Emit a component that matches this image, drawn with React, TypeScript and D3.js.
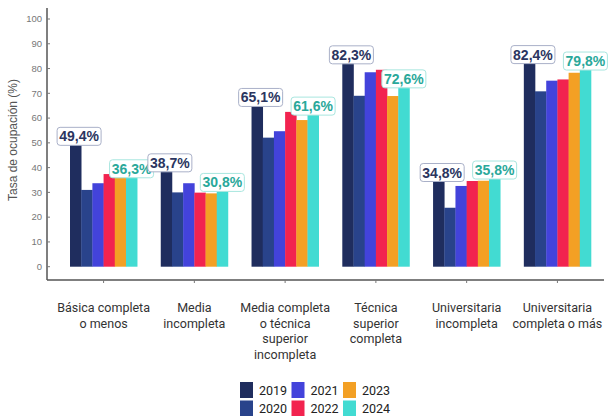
import * as d3 from "d3";

const categories = [
  "Básica completa\no menos",
  "Media\nincompleta",
  "Media completa\no técnica\nsuperior\nincompleta",
  "Técnica\nsuperior\ncompleta",
  "Universitaria\nincompleta",
  "Universitaria\ncompleta o más",
];
const years = ["2019", "2020", "2021", "2022", "2023", "2024"];
const v2019 = [49.4, 38.7, 65.1, 82.3, 34.8, 82.4];
const v2020 = [31.0, 30.0, 52.1, 69.0, 23.8, 70.8];
const v2021 = [33.7, 33.7, 54.7, 78.5, 32.6, 75.1];
const v2022 = [37.4, 29.9, 62.5, 79.5, 34.6, 75.6];
const v2023 = [36.9, 29.6, 59.2, 68.9, 34.7, 78.3];
const v2024 = [36.3, 30.8, 61.6, 72.6, 35.8, 79.8];
const yTicks = [0, 10, 20, 30, 40, 50, 60, 70, 80, 90, 100];
const colors = ["#1f2d5e", "#29438b", "#4343db", "#f2234f", "#f3a024", "#42dbd2"];

const series = [v2019, v2020, v2021, v2022, v2023, v2024];

const width = 608;
const height = 416;
const axisX = 47;
const axisY = 280;

const fmt = (v: number) => v.toFixed(1).replace(".", ",") + "%";

export default function App() {
  const x = d3.scaleBand<string>().domain(categories).range([70, 591]).paddingInner(0.26).paddingOuter(0);
  const xi = d3.scaleBand<string>().domain(years).range([0, x.bandwidth()]).padding(0);
  const y = d3.scaleLinear().domain([0, 100]).range([266.7, 19]);

  // value labels only for first and last year
  const labelled = [
    {s: 0, off: 3.5, text: "#2b3560", stroke: "#a9b0c8"},
    {s: 5, off: 0, text: "#2aa89a", stroke: "#a8e6df"},
  ];

  return (
    <svg width={width} height={height} style={{position: "absolute", left: 0, top: 0, background: "#fff"}}>
      {/* y axis */}
      <line x1={axisX} x2={axisX} y1={8} y2={axisY} stroke="#555" strokeWidth={1.5} />
      {yTicks.map(t => (
        <g key={t} transform={`translate(0,${y(t)})`}>
          <line x1={axisX} x2={axisX + 3} stroke="#777" strokeWidth={1} />
          <text x={42} dy="0.35em" textAnchor="end" fontSize={9.5} fill="#777" fontFamily="Liberation Sans, Arial, sans-serif">{t}</text>
        </g>
      ))}
      <text transform={`translate(13,140) rotate(-90)`} textAnchor="middle" dy="0.35em" fontSize={12} fill="#555" fontFamily="Liberation Sans, Arial, sans-serif">Tasa de ocupación (%)</text>

      {/* x axis */}
      <line x1={axisX} x2={604} y1={axisY} y2={axisY} stroke="#555" strokeWidth={1.5} />
      {categories.map(c => (
        <g key={c} transform={`translate(${x(c)! + x.bandwidth() / 2},0)`}>
          <line y1={axisY} y2={axisY + 3} stroke="#777" strokeWidth={1} />
          {c.split("\n").map((line, i) => (
            <text key={i} y={312 + i * 15.5} textAnchor="middle" fontSize={12.5} fill="#333" fontFamily="Roboto, sans-serif">{line}</text>
          ))}
        </g>
      ))}

      {/* bars */}
      {categories.map((c, ci) => (
        <g key={c} transform={`translate(${x(c)},0)`}>
          {years.map((yr, si) => (
            <rect key={yr} x={xi(yr)} width={xi.bandwidth() + 0.3} y={y(series[si][ci])} height={y(0) - y(series[si][ci])} fill={colors[si]} />
          ))}
        </g>
      ))}

      {/* value labels */}
      {categories.map((c, ci) => (
        <g key={c}>
          {labelled.map(l => {
            const cx = x(c)! + xi(years[l.s])! + xi.bandwidth() / 2 + l.off;
            const top = y(series[l.s][ci]);
            return (
              <g key={l.s} transform={`translate(${cx},${top + 1})`}>
                <rect x={-22} y={-18} width={44} height={18} rx={3} fill="#fff" stroke={l.stroke} strokeWidth={1} />
                <text y={-9} dy="0.36em" textAnchor="middle" fontSize={14} fontWeight="bold" fill={l.text} fontFamily="Liberation Sans, Arial, sans-serif">{fmt(series[l.s][ci])}</text>
              </g>
            );
          })}
        </g>
      ))}

      {/* legend */}
      {years.map((yr, i) => {
        const col = Math.floor(i / 2);
        const row = i % 2;
        const lx = 240 + col * 51.5;
        const ly = 382 + row * 18.5;
        return (
          <g key={yr} transform={`translate(${lx},${ly})`}>
            <rect width={13} height={16} fill={colors[i]} />
            <text x={19} y={8} dy="0.36em" fontSize={12.5} fill="#222" fontFamily="Roboto, sans-serif">{yr}</text>
          </g>
        );
      })}
    </svg>
  );
}
